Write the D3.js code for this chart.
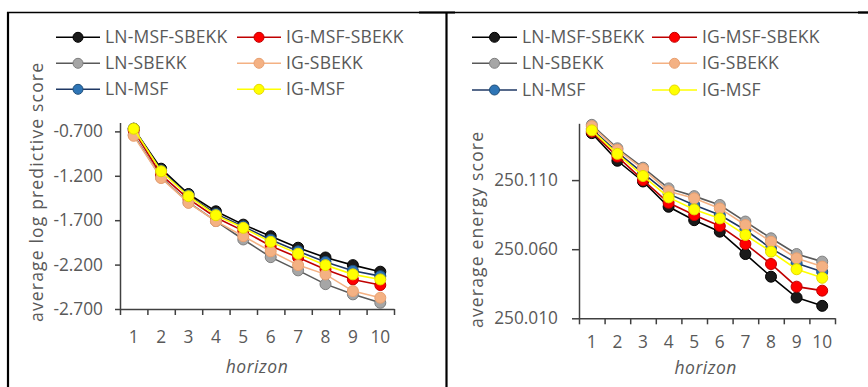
<!DOCTYPE html>
<html>
<head>
<meta charset="utf-8">
<script src="https://cdn.jsdelivr.net/npm/d3@7"></script>
<style>
  html, body { margin: 0; padding: 0; background: #fff; }
  svg { display: block; }
  text { font-family: "Open Sans", sans-serif; fill: #595959; }
</style>
</head>
<body>
<svg id="chart" width="868" height="387"></svg>
<script>
// ---------- data ----------
const horizons = [1, 2, 3, 4, 5, 6, 7, 8, 9, 10];
const seriesNames = ["LN-MSF-SBEKK", "LN-SBEKK", "LN-MSF", "IG-MSF-SBEKK", "IG-SBEKK", "IG-MSF"];

// left panel: average log predictive score
const lpsLnMsfSbekk = [-0.67, -1.12, -1.405, -1.60, -1.75, -1.88, -2.01, -2.12, -2.206, -2.28];
const lpsLnSbekk    = [-0.74, -1.22, -1.50, -1.71, -1.917, -2.116, -2.265, -2.42, -2.535, -2.63];
const lpsLnMsf      = [-0.67, -1.14, -1.42, -1.63, -1.77, -1.92, -2.05, -2.17, -2.27, -2.33];
const lpsIgMsfSbekk = [-0.69, -1.19, -1.46, -1.67, -1.82, -1.99, -2.12, -2.254, -2.367, -2.43];
const lpsIgSbekk    = [-0.75, -1.225, -1.505, -1.71, -1.88, -2.05, -2.206, -2.31, -2.498, -2.573];
const lpsIgMsf      = [-0.67, -1.149, -1.43, -1.644, -1.786, -1.944, -2.078, -2.206, -2.31, -2.367];

// right panel: average energy score
const esLnMsfSbekk = [250.144, 250.124, 250.109, 250.0907, 250.081, 250.0727, 250.0565, 250.0401, 250.025, 250.019];
const esLnSbekk    = [250.150, 250.133, 250.119, 250.104, 250.0984, 250.092, 250.080, 250.0679, 250.0565, 250.051];
const esLnMsf      = [250.147, 250.130, 250.115, 250.100, 250.092, 250.0847, 250.0739, 250.0606, 250.0498, 250.0436];
const esIgMsfSbekk = [250.145, 250.127, 250.110, 250.0936, 250.0847, 250.0768, 250.0638, 250.0493, 250.0329, 250.030];
const esIgSbekk    = [250.149, 250.132, 250.118, 250.102, 250.0968, 250.0895, 250.0775, 250.0654, 250.0534, 250.0474];
const esIgMsf      = [250.146, 250.129, 250.113, 250.0975, 250.0888, 250.0823, 250.0703, 250.0582, 250.0455, 250.0393];

const lpsTicks = [-2.7, -2.2, -1.7, -1.2, -0.7];
const lpsTickLabels = ["-2.700", "-2.200", "-1.700", "-1.200", "-0.700"];
const esTicks = [250.010, 250.060, 250.110];
const esTickLabels = ["250.010", "250.060", "250.110"];

const lineColors   = ["#000000", "#595959", "#1f3864", "#c00000", "#f4b183", "#ffff00"];
const markerFills  = ["#1a1a1a", "#a6a6a6", "#2e75b6", "#ff0000", "#f4b183", "#ffff00"];
const markerStroke = ["#000000", "#7f7f7f", "#1f4e79", "#c00000", "#e8a070", "#e6d800"];

// ---------- drawing ----------
const svg = d3.select("#chart");

// frame
const frame = svg.append("g").attr("stroke", "#000");
frame.append("line").attr("x1", 7).attr("x2", 868).attr("y1", 12.5).attr("y2", 12.5).attr("stroke-width", 1.3);
frame.append("line").attr("x1", 419).attr("x2", 455).attr("y1", 12.5).attr("y2", 12.5).attr("stroke-width", 2.2);
frame.append("line").attr("x1", 858).attr("x2", 868).attr("y1", 12.5).attr("y2", 12.5).attr("stroke-width", 2.2);
frame.append("line").attr("x1", 8).attr("x2", 8).attr("y1", 12).attr("y2", 387).attr("stroke-width", 2.2);
frame.append("line").attr("x1", 446.5).attr("x2", 446.5).attr("y1", 12).attr("y2", 387).attr("stroke-width", 2.2);

function panel(cfg) {
  const g = svg.append("g");
  const x = d3.scaleBand().domain(horizons).range([cfg.x0, cfg.x1]).padding(0);
  const xb = d3.scaleLinear().domain([0, 10]).range([cfg.x0, cfg.x1]);
  const y = d3.scaleLinear().domain(cfg.yDomain).range([cfg.yBottom, cfg.yTop]);

  // y axis
  const ya = g.append("g").attr("transform", `translate(${cfg.x0},0)`)
    .call(d3.axisLeft(y).tickValues(cfg.ticks).tickSize(cfg.tickLen).tickSizeOuter(0)
      .tickPadding(cfg.tickPad).tickFormat((d, i) => cfg.tickLabels[i]));
  ya.select(".domain").attr("stroke", "#404040").attr("stroke-width", 1.5);
  ya.selectAll(".tick line").attr("stroke", "#404040").attr("stroke-width", 1.5);
  ya.selectAll(".tick text").attr("font-size", 17.3).attr("font-family", "Open Sans").attr("fill", "#595959");

  // x axis (boundary ticks)
  const xa = g.append("g").attr("transform", `translate(0,${cfg.yBottom})`)
    .call(d3.axisBottom(xb).tickValues(d3.range(0, 11)).tickSize(6).tickSizeOuter(0).tickFormat(""));
  xa.select(".domain").attr("stroke", "#404040").attr("stroke-width", 1.5);
  xa.selectAll(".tick line").attr("stroke", "#404040").attr("stroke-width", 1.5);

  // x labels
  g.selectAll(".xl").data(horizons).enter().append("text")
    .attr("x", d => x(d) + x.bandwidth() / 2).attr("y", cfg.xLabelY)
    .attr("text-anchor", "middle").attr("font-size", 17.3).text(d => d);

  g.append("text").attr("x", cfg.xTitleX).attr("y", cfg.xTitleY).attr("text-anchor", "middle")
    .attr("font-size", 17.5).attr("font-style", "italic").attr("letter-spacing", 0.5).text("horizon");

  g.append("text").attr("transform", `translate(${cfg.yTitleX},${cfg.yTitleY}) rotate(-90)`)
    .attr("text-anchor", "middle").attr("dy", "0.35em").attr("font-size", 17.5)
    .attr("textLength", cfg.yTitleLen).attr("lengthAdjust", "spacing").text(cfg.yTitle);

  const line = d3.line().x((d, i) => x(horizons[i]) + x.bandwidth() / 2).y(d => y(d));
  cfg.series.forEach((vals, si) => {
    const sg = g.append("g");
    sg.append("path").datum(vals).attr("d", line).attr("fill", "none")
      .attr("stroke", lineColors[si]).attr("stroke-width", 1.6);
    sg.selectAll("circle").data(vals).enter().append("circle")
      .attr("cx", (d, i) => x(horizons[i]) + x.bandwidth() / 2).attr("cy", d => y(d))
      .attr("r", 5.5).attr("fill", markerFills[si]).attr("stroke", markerStroke[si]).attr("stroke-width", 1);
  });

  // legend (2 columns x 3 rows); order as in reference
  const legOrder = [0, 3, 1, 4, 2, 5];
  legOrder.forEach((si, k) => {
    const col = k % 2, row = Math.floor(k / 2);
    const lx = cfg.legCols[col], ly = cfg.legRows[row];
    const lg = g.append("g");
    lg.append("line").attr("x1", lx).attr("x2", lx + cfg.legLineW).attr("y1", ly).attr("y2", ly)
      .attr("stroke", lineColors[si]).attr("stroke-width", 1.6);
    lg.append("circle").attr("cx", lx + cfg.legLineW / 2).attr("cy", ly).attr("r", 5)
      .attr("fill", markerFills[si]).attr("stroke", markerStroke[si]).attr("stroke-width", 1);
    lg.append("text").attr("x", lx + cfg.legLineW + 5).attr("y", ly).attr("dy", "0.35em")
      .attr("font-size", 17.5).attr("letter-spacing", 0.2).text(seriesNames[si]);
  });
}

panel({
  x0: 120, x1: 394, yTop: 122.5, yBottom: 309, yDomain: [-2.7, -0.6],
  ticks: lpsTicks, tickLabels: lpsTickLabels, tickLen: 5, tickPad: 12,
  xLabelY: 342.5, xTitleX: 257, xTitleY: 372.5,
  yTitle: "average log predictive score", yTitleX: 37, yTitleY: 192.5, yTitleLen: 259,
  series: [lpsLnMsfSbekk, lpsLnSbekk, lpsLnMsf, lpsIgMsfSbekk, lpsIgSbekk, lpsIgMsf],
  legCols: [56, 237], legRows: [37.3, 63.3, 89.3], legLineW: 44
});

panel({
  x0: 579, x1: 835, yTop: 123.3, yBottom: 318.3, yDomain: [250.010, 250.1511],
  ticks: esTicks, tickLabels: esTickLabels, tickLen: 7, tickPad: 14,
  xLabelY: 347.5, xTitleX: 705.7, xTitleY: 374,
  yTitle: "average energy score", yTitleX: 476.7, yTitleY: 230, yTitleLen: 196,
  series: [esLnMsfSbekk, esLnSbekk, esLnMsf, esIgMsfSbekk, esIgSbekk, esIgMsf],
  legCols: [472, 652], legRows: [37.3, 63.3, 90], legLineW: 45
});
</script>
</body>
</html>
